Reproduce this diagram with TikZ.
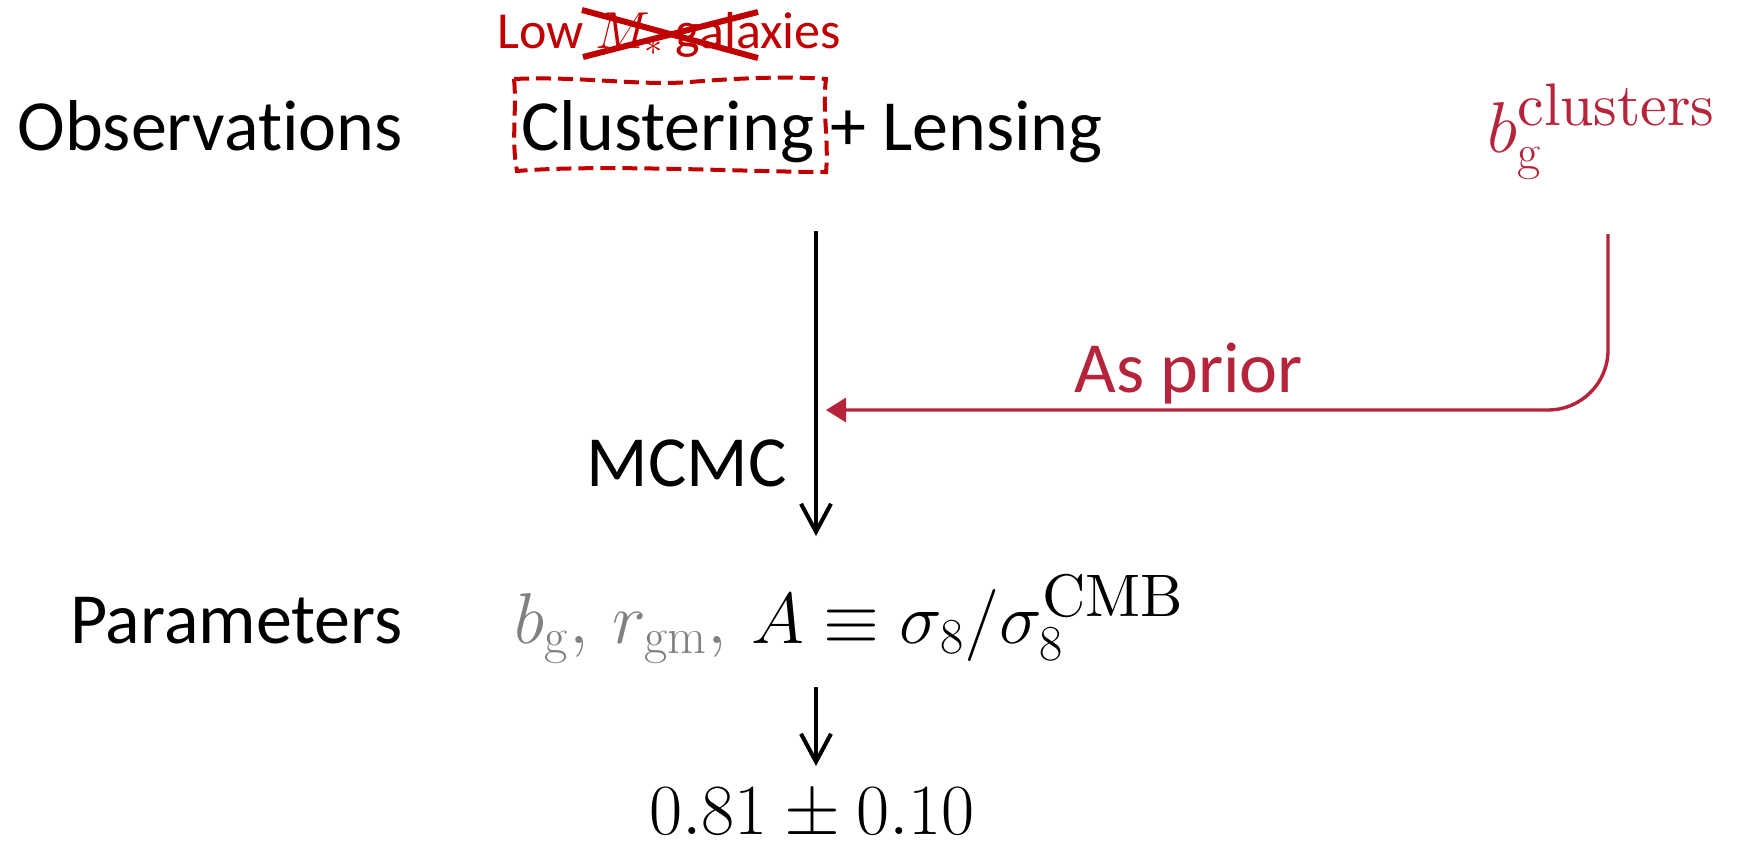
\RequirePackage{fix-cm}
\documentclass[tikz,border=0pt]{standalone}
\usepackage[no-math]{fontspec}
\setmainfont[Ligatures=NoCommon,RawFeature={-liga;-clig;-calt;-dlig}]{Carlito}
\usetikzlibrary{arrows.meta}
\definecolor{boxred}{HTML}{C00000}
\definecolor{prior}{HTML}{B5243A}
\definecolor{grayp}{HTML}{808080}
\font\supclus=cmr10 at 30pt
\font\supcmb=cmr10 at 30pt
\tikzset{
  big/.style={inner sep=0pt, font=\fontsize{36}{43}\selectfont},
  small/.style={inner sep=0pt, font=\fontsize{26}{31}\selectfont, text=boxred},
  flow/.style={line width=2pt, -{Straight Barb[length=14pt,width=15pt,line width=2pt]}},
  priorline/.style={draw=prior, line width=1.7pt, rounded corners=30pt, -{Triangle[length=10pt,width=12pt]}},
  dashbox/.style={draw=boxred, line width=2pt, dash pattern=on 7.5pt off 3.5pt},
  cross/.style={draw=boxred, line width=3pt}
}
\begin{document}
\begin{tikzpicture}[x=0.5pt,y=-0.5pt]
\useasboundingbox (0,0) rectangle (1745,846);
% text nodes
\node[big, anchor=base east] (obs) at (403,150) {Observations};
\node[big, anchor=base west] (cl) at (521,150) {Clustering + Lensing};
\node[small, anchor=base west] (low) at (497,48) {Low $M_*$ galaxies};
\node[big, anchor=base west, text=prior] (bcl) at (1487,152) {$b_{\mathrm{g}}^{\mbox{\supclus clusters}}$};
\node[big, anchor=base east] (mcmc) at (787,486) {MCMC};
\node[big, anchor=base west, text=prior] (asp) at (1074,392) {As prior};
\node[big, anchor=base east] (par) at (403,643) {Parameters};
\node[big, anchor=base west] (eq) at (514,643) {$\color{grayp}b_{\mathrm{g}},\, r_{\mathrm{gm}},\, \color{black}A\equiv\sigma_8/\sigma_8^{\mbox{\supcmb CMB}}$};
\node[big, anchor=base] (res) at (812,834) {$0.81\pm0.10$};
% coordinates
\coordinate (flowtop) at (816,231);
\coordinate (flowbot) at (816,536);
\coordinate (restop) at (816,687);
\coordinate (resbot) at (816,766);
\coordinate (priortop) at (1608,234);
\coordinate (priorend) at (826,410);
% connectors
\draw[flow] (flowtop) -- (flowbot);
\draw[flow] (restop) -- (resbot);
\draw[priorline] (priortop) |- (priorend);
% dashed wavy box
\draw[dashbox] (514,79) .. controls (580,76) and (640,86) .. (690,82)
  .. controls (740,78) and (790,76) .. (826,79)
  .. controls (822,110) and (829,140) .. (826,172)
  .. controls (750,172) and (600,164) .. (517,171)
  .. controls (511,140) and (517,110) .. (514,79) -- cycle;
% cross
\draw[cross] (582,10) -- (758,58);
\draw[cross] (583,57) -- (758,12);
\end{tikzpicture}
\end{document}
